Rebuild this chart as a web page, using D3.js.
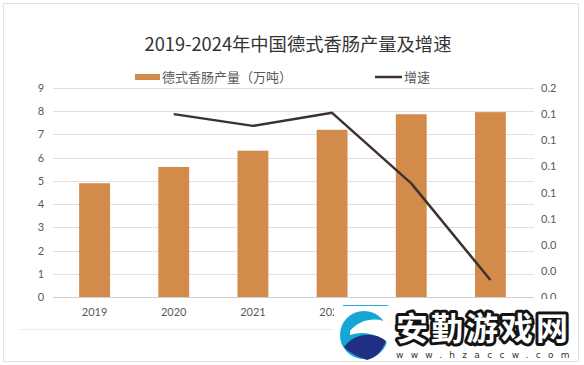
<!DOCTYPE html>
<html>
<head>
<meta charset="utf-8">
<script src="https://cdn.jsdelivr.net/npm/d3@7"></script>
<style>
  body { margin: 0; background: #fff; }
  svg { display: block; }
  .tick text { font-family: "Lato", "Liberation Sans", sans-serif; font-size: 11px; fill: #595959; }
</style>
</head>
<body>
<svg id="chart" width="584" height="365"></svg>
<script>
// data
var years = ['2019', '2020', '2021', '2022', '2023', '2024'];
var output = [4.9, 5.6, 6.3, 7.2, 7.87, 7.96];          // 万吨
var growth = [null, 0.140, 0.131, 0.141, 0.087, 0.013];
var leftTicks = [0, 1, 2, 3, 4, 5, 6, 7, 8, 9];
var rightTicks = [0, 0.02, 0.04, 0.06, 0.08, 0.10, 0.12, 0.14, 0.16];

var titleText = '2019-2024年中国德式香肠产量及增速';
var barName = '德式香肠产量（万吨）';
var lineName = '增速';

var svg = d3.select('#chart');
var cjk = '"Noto Sans CJK SC", "Noto Sans", sans-serif';

// faint frame of the pasted chart
svg.append('rect')
	.attr('x', 3.5).attr('y', 3.5)
	.attr('width', 575).attr('height', 358)
	.attr('fill', 'none')
	.attr('stroke', '#e2e2e2');
svg.append('line')
	.attr('x1', 20).attr('x2', 335)
	.attr('y1', 329.5).attr('y2', 329.5)
	.attr('stroke', '#ececec');

var x = d3.scaleBand().domain(years).range([55, 530]).paddingInner(0.61).paddingOuter(0.305);
var y = d3.scaleLinear().domain([0, 9]).range([297, 88]);
var y2 = d3.scaleLinear().domain([0, 0.16]).range([297, 88]);

// gridlines
svg.append('g')
	.attr('id', 'grid')
	.selectAll('line')
	.data(leftTicks)
	.enter()
	.append('line')
	.attr('x1', 53).attr('x2', 534)
	.attr('y1', function(d) { return Math.round(y(d)) + 0.5; })
	.attr('y2', function(d) { return Math.round(y(d)) + 0.5; })
	.attr('stroke', function(d) { return d == 0 ? '#cfcfcf' : '#e0e0e0'; })
	.attr('stroke-width', 1);

// left axis
var gl = svg.append('g')
	.attr('transform', 'translate(44,0)')
	.call(d3.axisLeft(y).tickValues(leftTicks).tickSize(0).tickPadding(0).tickFormat(d3.format('d')));
gl.select('.domain').remove();
gl.selectAll('text').attr('text-anchor', 'middle').attr('x', -3);

// right axis
var gr = svg.append('g')
	.attr('transform', 'translate(541,0)')
	.call(d3.axisRight(y2).tickValues(rightTicks).tickSize(0).tickPadding(0).tickFormat(d3.format('.1f')));
gr.select('.domain').remove();

// bottom axis
var gb = svg.append('g')
	.attr('transform', 'translate(0,308)')
	.call(d3.axisBottom(x).tickSize(0).tickPadding(0));
gb.select('.domain').remove();

// bars
svg.append('g')
	.attr('id', 'bars')
	.selectAll('rect')
	.data(output)
	.enter()
	.append('rect')
	.attr('x', function(d, i) { return x(years[i]); })
	.attr('y', function(d) { return y(d); })
	.attr('width', x.bandwidth())
	.attr('height', function(d) { return y(0) - y(d); })
	.attr('fill', '#d38b4c');

// growth line
var line = d3.line()
	.defined(function(d) { return d != null; })
	.x(function(d, i) { return x(years[i]) + x.bandwidth() / 2; })
	.y(function(d) { return y2(d); });
svg.append('path')
	.datum(growth)
	.attr('d', line)
	.attr('fill', 'none')
	.attr('stroke', '#3d322c')
	.attr('stroke-width', 2.5)
	.attr('stroke-linejoin', 'round');

// title
svg.append('text')
	.attr('x', 298).attr('y', 51)
	.attr('text-anchor', 'middle')
	.attr('font-family', cjk)
	.attr('font-size', 18.3)
	.attr('fill', '#333')
	.text(titleText);

// legend
var lg = svg.append('g').attr('id', 'legend');
lg.append('rect')
	.attr('x', 135).attr('y', 74)
	.attr('width', 25).attr('height', 6)
	.attr('fill', '#d38b4c');
lg.append('text')
	.attr('x', 162).attr('y', 82)
	.attr('font-family', cjk)
	.attr('font-size', 13)
	.attr('fill', '#595959')
	.text(barName);
lg.append('line')
	.attr('x1', 375).attr('x2', 402)
	.attr('y1', 77).attr('y2', 77)
	.attr('stroke', '#3d322c')
	.attr('stroke-width', 2.5);
lg.append('text')
	.attr('x', 404).attr('y', 82)
	.attr('font-family', cjk)
	.attr('font-size', 13)
	.attr('fill', '#595959')
	.text(lineName);

// site watermark pasted over the lower right corner
var wm = svg.append('g').attr('id', 'watermark');
wm.append('rect')
	.attr('x', 334).attr('y', 299)
	.attr('width', 243).attr('height', 62)
	.attr('fill', '#fff');
wm.append('line')
	.attr('x1', 343).attr('x2', 388)
	.attr('y1', 305.5).attr('y2', 305.5)
	.attr('stroke', '#29a8d8').attr('stroke-width', 1);
wm.append('circle')
	.attr('cx', 364).attr('cy', 335)
	.attr('r', 24)
	.attr('fill', '#16a6d4');
wm.append('path')
	.attr('d', 'M350,331 C360,318 380,316 392,325 L392,347 C380,334 364,330 350,335 Z')
	.attr('fill', '#fff');
wm.append('path')
	.attr('d', 'M344,347 C354,333 374,331 386,341 C382,352 375,358 367,360 C358,357 350,353 344,347 Z')
	.attr('fill', '#1e2f84');
wm.append('text')
	.attr('x', 396).attr('y', 340)
	.attr('font-family', cjk)
	.attr('font-weight', 'bold')
	.attr('font-size', 32)
	.attr('letter-spacing', 3)
	.attr('fill', '#fff')
	.attr('stroke', '#141414')
	.attr('stroke-width', 6)
	.attr('stroke-linejoin', 'round')
	.attr('paint-order', 'stroke')
	.text('安勤游戏网');
wm.append('text')
	.attr('x', 396).attr('y', 358)
	.attr('font-family', '"DejaVu Sans", sans-serif')
	.attr('font-size', 9)
	.attr('letter-spacing', 7.3)
	.attr('fill', '#333')
	.text('www.hzaccw.com');
</script>
</body>
</html>
